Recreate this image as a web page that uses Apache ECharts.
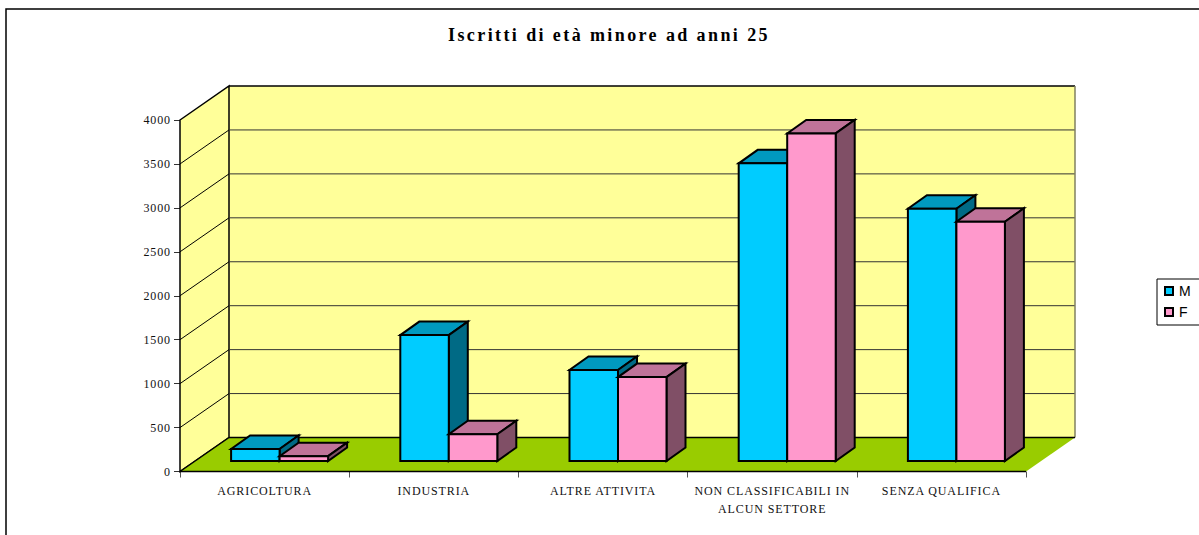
<!DOCTYPE html>
<html>
<head>
<meta charset="utf-8">
<script src="https://cdn.jsdelivr.net/npm/echarts@6/dist/echarts.min.js"></script>
<style>
html,body{margin:0;padding:0;background:#fff;}
#chart{width:1199px;height:535px;}
/* il grafico originale ha il testo spaziato */
#chart text{letter-spacing:.9px;}
#chart text[style*="bold"]{letter-spacing:2.4px;}
</style>
</head>
<body>
<div id="chart"></div>
<script>
var categories = ['AGRICOLTURA', 'INDUSTRIA', 'ALTRE ATTIVITA', 'NON CLASSIFICABILI IN\nALCUN SETTORE', 'SENZA QUALIFICA'];
var maleValues = [137, 1433, 1035, 3387, 2870];
var femaleValues = [55, 304, 955, 3728, 2722];
var yMax = 4000;
var yStep = 500;

/* profondita della finta prospettiva, in pixel */
var wallDx = 49, wallDy = -34;
var barOffDx = 15, barOffDy = -10.5;
var barDepthDx = 19, barDepthDy = -13.5;
var barWidth = 48.5;

var myChart = echarts.init(document.getElementById('chart'), null, {renderer: 'svg'});

function poly(points, fill, lw) {
	return {
		type: 'polygon',
		shape: {points: points},
		style: {fill: fill, stroke: '#000', lineWidth: lw || 2, lineJoin: 'miter'}
	};
}
function line(x1, y1, x2, y2, lw, color) {
	return {
		type: 'line',
		shape: {x1: x1, y1: y1, x2: x2, y2: y2},
		style: {stroke: color || '#000', lineWidth: lw}
	};
}

/*pareti e pavimento*/
function renderWalls(params, api) {
	var cs = params.coordSys;
	var left = cs.x, right = cs.x + cs.width;
	var y0 = api.coord([0, 0])[1];
	var yTop = api.coord([0, yMax])[1];
	var kids = [];
	kids.push({
		type: 'polygon',
		shape: {points: [[left + wallDx, yTop + wallDy], [right + wallDx, yTop + wallDy], [right + wallDx, y0 + wallDy], [left + wallDx, y0 + wallDy]]},
		style: {fill: '#ffff99', stroke: null}
	});
	kids.push(poly([[left, yTop], [left + wallDx, yTop + wallDy], [left + wallDx, y0 + wallDy], [left, y0]], '#ffff99', 1.5));
	for (var v = yStep; v < yMax; v += yStep) {
		var y = api.coord([0, v])[1];
		kids.push(line(left, y, left + wallDx, y + wallDy, 1, '#000'));
		kids.push(line(left + wallDx, y + wallDy, right + wallDx, y + wallDy, 1, '#333'));
	}
	kids.push(line(left + wallDx, yTop + wallDy, right + wallDx, yTop + wallDy, 1.5, '#000'));
	kids.push(line(right + wallDx, yTop + wallDy, right + wallDx, y0 + wallDy, 1.5, '#808060'));
	kids.push(poly([[left, y0], [left + wallDx, y0 + wallDy], [right + wallDx, y0 + wallDy], [right, y0]], '#99cc00', 1.5));
	kids[kids.length - 1].style.stroke = null;
	kids.push(line(left + wallDx, y0 + wallDy, right + wallDx, y0 + wallDy, 1.5, '#000'));
	kids.push(line(left, y0, left + wallDx, y0 + wallDy, 1.5, '#000'));
	kids.push(line(left, y0, right, y0, 1.5, '#000'));
	return {type: 'group', children: kids};
}

/*barra a tre facce*/
function barRenderer(slot, front, top, side) {
	return function (params, api) {
		var cat = api.value(0);
		var base = api.coord([cat, 0]);
		var head = api.coord([cat, api.value(1)]);
		var x0 = base[0] + barOffDx - barWidth + slot * barWidth;
		var x1 = x0 + barWidth;
		var yb = base[1] + barOffDy;
		var yt = head[1] + barOffDy;
		var dx = barDepthDx, dy = barDepthDy;
		return {
			type: 'group',
			children: [
				poly([[x0, yt], [x1, yt], [x1 + dx, yt + dy], [x0 + dx, yt + dy]], top),
				poly([[x1, yt], [x1 + dx, yt + dy], [x1 + dx, yb + dy], [x1, yb]], side),
				poly([[x0, yt], [x1, yt], [x1, yb], [x0, yb]], front)
			]
		};
	};
}

function toData(values) {
	var out = [];
	for (var i = 0; i < values.length; i++) {
		out.push([i, values[i]]);
	}
	return out;
}

var option = {
	animation: false,
	backgroundColor: '#fff',
	textStyle: {fontFamily: 'Liberation Serif'},
	title: {
		text: 'Iscritti di età minore ad anni 25',
		left: 604,
		top: 21,
		textAlign: 'center',
		textStyle: {fontFamily: 'Liberation Serif', fontSize: 18, fontWeight: 'bold', color: '#000'}
	},
	legend: {
		data: ['M', 'F'],
		orient: 'vertical',
		left: 1157,
		top: 279,
		padding: [5, 30, 6, 7],
		itemWidth: 8,
		itemHeight: 8,
		itemGap: 7,
		icon: 'rect',
		borderColor: '#000',
		borderWidth: 1,
		backgroundColor: '#fff',
		itemStyle: {borderColor: '#000', borderWidth: 2},
		textStyle: {fontFamily: 'Liberation Sans', fontSize: 14, color: '#000', padding: [0, 0, 0, 1]}
	},
	grid: {left: 180, right: 173, top: 120, bottom: 63.5},
	xAxis: {
		type: 'category',
		data: categories,
		axisLine: {show: false},
		axisTick: {show: true, alignWithLabel: false, length: 6, lineStyle: {color: '#555', width: 1}},
		axisLabel: {interval: 0, margin: 10, fontSize: 12, color: '#111', lineHeight: 18, fontFamily: 'Liberation Serif'},
		splitLine: {show: false}
	},
	yAxis: {
		type: 'value',
		min: 0,
		max: yMax,
		interval: yStep,
		axisLine: {show: false},
		axisTick: {show: true, length: 6, lineStyle: {color: '#333', width: 1}},
		axisLabel: {margin: 9, fontSize: 12, color: '#111', fontFamily: 'Liberation Serif', formatter: function (v) { return '' + v; }},
		splitLine: {show: false}
	},
	series: [
		{type: 'custom', name: 'walls', data: [[0, 0]], z: 1, silent: true, clip: false, renderItem: renderWalls},
		{type: 'custom', name: 'M', data: toData(maleValues), z: 2, clip: false, itemStyle: {color: '#00ccff'},
			renderItem: barRenderer(0, '#00ccff', '#0099bf', '#006a85')},
		{type: 'custom', name: 'F', data: toData(femaleValues), z: 3, clip: false, itemStyle: {color: '#ff99cc'},
			renderItem: barRenderer(1, '#ff99cc', '#bf7399', '#804f66')}
	],
	graphic: [{
		type: 'rect',
		z: -10,
		shape: {x: 6, y: 9, width: 1300, height: 600},
		style: {fill: 'none', stroke: '#000', lineWidth: 1.5}
	}]
};
myChart.setOption(option);
</script>
</body>
</html>
